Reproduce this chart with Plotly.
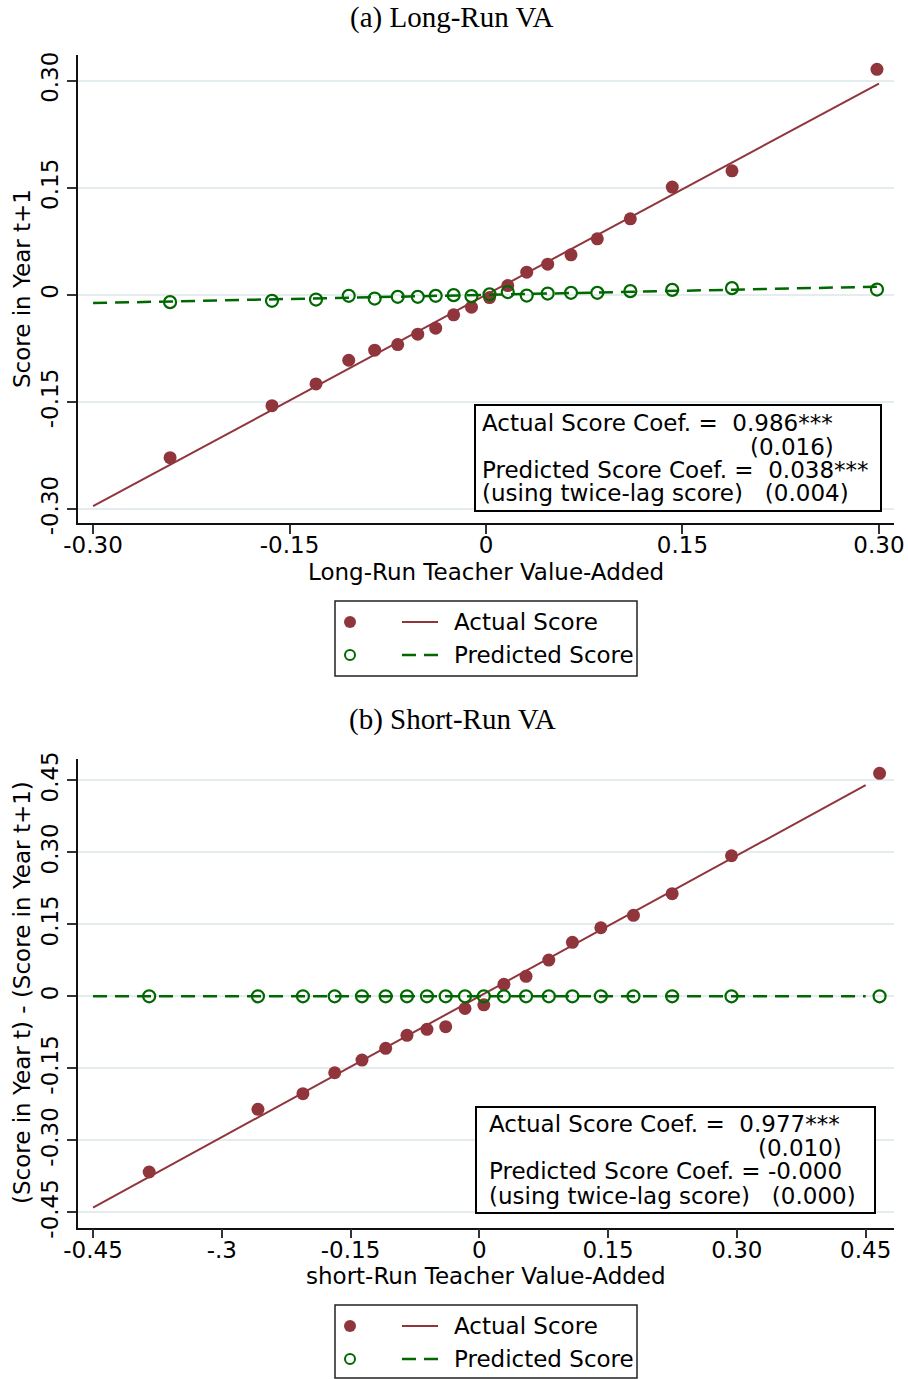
import plotly.graph_objects as go

W, H = 908, 1379

# ---------------- Data: panel (a) Long-Run VA ----------------
a_x = [-0.2412, -0.1634, -0.1298, -0.1048, -0.0850, -0.0674, -0.0521, -0.0384, -0.0247, -0.0111,
       0.0027, 0.0166, 0.0311, 0.0471, 0.0649, 0.0850, 0.1102, 0.1422, 0.1878, 0.2985]
a_actual = [-0.2281, -0.1552, -0.1248, -0.0916, -0.0775, -0.0697, -0.0551, -0.0467, -0.0280, -0.0172,
            -0.0038, 0.0130, 0.0318, 0.0430, 0.0561, 0.0785, 0.1065, 0.1510, 0.1738, 0.3159]
a_pred = [-0.0102, -0.0084, -0.0066, -0.0014, -0.0052, -0.0028, -0.0028, -0.0014, -0.0004, -0.0018,
          0.0007, 0.0039, -0.0010, 0.0018, 0.0028, 0.0028, 0.0052, 0.0070, 0.0094, 0.0074]
a_fit_x = [-0.30, 0.30]
a_fit_actual = [-0.296, 0.296]
a_fit_pred = [-0.0115, 0.0115]
a_tickvals = [-0.30, -0.15, 0, 0.15, 0.30]
a_ticktext = ["-0.30", "-0.15", "0", "0.15", "0.30"]
a_box_lines = ["Actual Score Coef. =  0.986***", "(0.016)",
               "Predicted Score Coef. =  0.038***", "(using twice-lag score)   (0.004)"]

# ---------------- Data: panel (b) Short-Run VA ----------------
b_x = [-0.3846, -0.2579, -0.2055, -0.1685, -0.1367, -0.1091, -0.0843, -0.0610, -0.0392, -0.0167,
       0.0052, 0.0286, 0.0544, 0.0809, 0.1084, 0.1415, 0.1795, 0.2246, 0.2937, 0.4662]
b_actual = [-0.3660, -0.2354, -0.2029, -0.1592, -0.1327, -0.1083, -0.0813, -0.0688, -0.0633, -0.0254,
            -0.0177, 0.0250, 0.0417, 0.0756, 0.1125, 0.1429, 0.1688, 0.2138, 0.2929, 0.4646]
b_pred = [0.0] * 20
b_fit_x = [-0.45, 0.45]
b_fit_actual = [-0.440, 0.440]
b_fit_pred = [0.0, 0.0]
b_xtickvals = [-0.45, -0.30, -0.15, 0, 0.15, 0.30, 0.45]
b_xticktext = ["-0.45", "-.3", "-0.15", "0", "0.15", "0.30", "0.45"]
b_ytickvals = [-0.45, -0.30, -0.15, 0, 0.15, 0.30, 0.45]
b_yticktext = ["-0.45", "-0.30", "-0.15", "0", "0.15", "0.30", "0.45"]
b_box_lines = ["Actual Score Coef. =  0.977***", "(0.010)",
               "Predicted Score Coef. = -0.000", "(using twice-lag score)   (0.000)"]

legend_labels = ["Actual Score", "Predicted Score"]
titles = ["(a) Long-Run VA", "(b) Short-Run VA"]
xtitles = ["Long-Run Teacher Value-Added", "short-Run Teacher Value-Added"]
ytitles = ["Score in Year t+1", "(Score in Year t) - (Score in Year t+1)"]

# ---------------- Styles ----------------
RED = "rgb(144,53,59)"
GREEN = "rgb(0,104,0)"
GRID = "#e4ecef"
FONT = "DejaVu Sans"
FS = 23


def px(p):
    return p / W


def py(p):
    return 1 - p / H


def nb(s):
    return s.replace("  ", "\u00a0\u00a0")


fig = go.Figure()


def add_panel(xs, ya, yp, fx, fa, fp, xa, ya_name):
    fig.add_trace(go.Scatter(x=fx, y=fa, mode="lines", line=dict(color=RED, width=2),
                             xaxis=xa, yaxis=ya_name, showlegend=False, hoverinfo="skip"))
    fig.add_trace(go.Scatter(x=xs, y=ya, mode="markers",
                             marker=dict(color=RED, size=13, symbol="circle", line=dict(width=0)),
                             xaxis=xa, yaxis=ya_name, showlegend=False))
    fig.add_trace(go.Scatter(x=fx, y=fp, mode="lines",
                             line=dict(color=GREEN, width=2.5, dash="14px,8px"),
                             xaxis=xa, yaxis=ya_name, showlegend=False, hoverinfo="skip"))
    fig.add_trace(go.Scatter(x=xs, y=yp, mode="markers",
                             marker=dict(color=GREEN, size=12, symbol="circle-open", line=dict(width=2.2)),
                             xaxis=xa, yaxis=ya_name, showlegend=False))


add_panel(a_x, a_actual, a_pred, a_fit_x, a_fit_actual, a_fit_pred, "x", "y")
add_panel(b_x, b_actual, b_pred, b_fit_x, b_fit_actual, b_fit_pred, "x2", "y2")

axis_common = dict(showline=True, linecolor="#111", linewidth=1.5, ticks="outside", ticklen=9,
                   tickwidth=1.5, tickcolor="#333", zeroline=False, automargin=False,
                   tickfont=dict(family=FONT, size=FS, color="black"))

fig.update_layout(
    width=W, height=H, margin=dict(l=0, r=0, t=0, b=0, autoexpand=False),
    paper_bgcolor="white", plot_bgcolor="white", showlegend=False,
    xaxis=dict(domain=[px(78), px(894)], range=[-0.3115, 0.3115], tickvals=a_tickvals,
               ticktext=a_ticktext, showgrid=False, anchor="y", ticklabelstandoff=-8,
               **axis_common),
    yaxis=dict(domain=[py(523), py(55)], range=[-0.3196, 0.336], tickvals=a_tickvals,
               ticktext=a_ticktext, showgrid=True, gridcolor=GRID, gridwidth=2, tickangle=-90,
               anchor="x", **axis_common),
    xaxis2=dict(domain=[px(78), px(894)], range=[-0.4675, 0.483], tickvals=b_xtickvals,
                ticktext=b_xticktext, showgrid=False, anchor="y2", ticklabelstandoff=-8,
                **axis_common),
    yaxis2=dict(domain=[py(1227.7), py(759)], range=[-0.482, 0.4944], tickvals=b_ytickvals,
                ticktext=b_yticktext, showgrid=True, gridcolor=GRID, gridwidth=2, tickangle=-90,
                anchor="x2", **axis_common),
)

annotations = []
shapes = []

# Panel titles
for t, yc in zip(titles, [17, 720]):
    annotations.append(dict(text=t, x=px(452), y=py(yc), xref="paper", yref="paper",
                            xanchor="center", yanchor="middle", showarrow=False,
                            font=dict(family="Liberation Serif", size=29, color="black")))

# Axis titles
for t, yc in zip(xtitles, [572, 1276]):
    annotations.append(dict(text=t, x=px(486), y=py(yc), xref="paper", yref="paper",
                            xanchor="center", yanchor="middle", showarrow=False,
                            font=dict(family=FONT, size=FS, color="black")))
for t, yc in zip(ytitles, [289, 993]):
    annotations.append(dict(text=t, x=px(22), y=py(yc), xref="paper", yref="paper",
                            xanchor="center", yanchor="middle", showarrow=False, textangle=-90,
                            font=dict(family=FONT, size=FS, color="black")))

# Coefficient boxes
boxes = [
    dict(lines=a_box_lines, x0=475, x1=881, y0=405, y1=511, tx=480, tx2=748, ys=[423, 447, 470, 493]),
    dict(lines=b_box_lines, x0=476, x1=875, y0=1107, y1=1213, tx=487, tx2=756, ys=[1124, 1148, 1171, 1196]),
]
for bx in boxes:
    shapes.append(dict(type="rect", xref="paper", yref="paper", x0=px(bx["x0"]), x1=px(bx["x1"]),
                       y0=py(bx["y1"]), y1=py(bx["y0"]), line=dict(color="black", width=2),
                       fillcolor="white", layer="above"))
    for i, (ln, yc) in enumerate(zip(bx["lines"], bx["ys"])):
        xpos = bx["tx2"] if i == 1 else bx["tx"]
        annotations.append(dict(text=nb(ln), x=px(xpos), y=py(yc), xref="paper", yref="paper",
                                xanchor="left", yanchor="middle", showarrow=False,
                                font=dict(family=FONT, size=FS, color="black")))

# Legends
for top in [601, 1305]:
    bottom = min(top + 75, 1378)
    shapes.append(dict(type="rect", xref="paper", yref="paper", x0=px(335), x1=px(637),
                       y0=py(bottom), y1=py(top), line=dict(color="#222", width=1.5)))
    r1, r2 = top + 21, top + 54
    shapes.append(dict(type="circle", xref="paper", yref="paper", x0=px(344), x1=px(356),
                       y0=py(r1 + 6), y1=py(r1 - 6), fillcolor=RED, line=dict(width=0)))
    shapes.append(dict(type="circle", xref="paper", yref="paper", x0=px(345), x1=px(355),
                       y0=py(r2 + 5), y1=py(r2 - 5), line=dict(color=GREEN, width=2)))
    shapes.append(dict(type="line", xref="paper", yref="paper", x0=px(402), x1=px(438),
                       y0=py(r1), y1=py(r1), line=dict(color=RED, width=2)))
    shapes.append(dict(type="line", xref="paper", yref="paper", x0=px(402), x1=px(438),
                       y0=py(r2), y1=py(r2), line=dict(color=GREEN, width=2.5, dash="14px,8px")))
    for lab, yc in zip(legend_labels, [r1, r2]):
        annotations.append(dict(text=lab, x=px(452), y=py(yc), xref="paper", yref="paper",
                                xanchor="left", yanchor="middle", showarrow=False,
                                font=dict(family=FONT, size=FS, color="black")))

fig.update_layout(annotations=annotations, shapes=shapes)
fig.write_html("out.html")
